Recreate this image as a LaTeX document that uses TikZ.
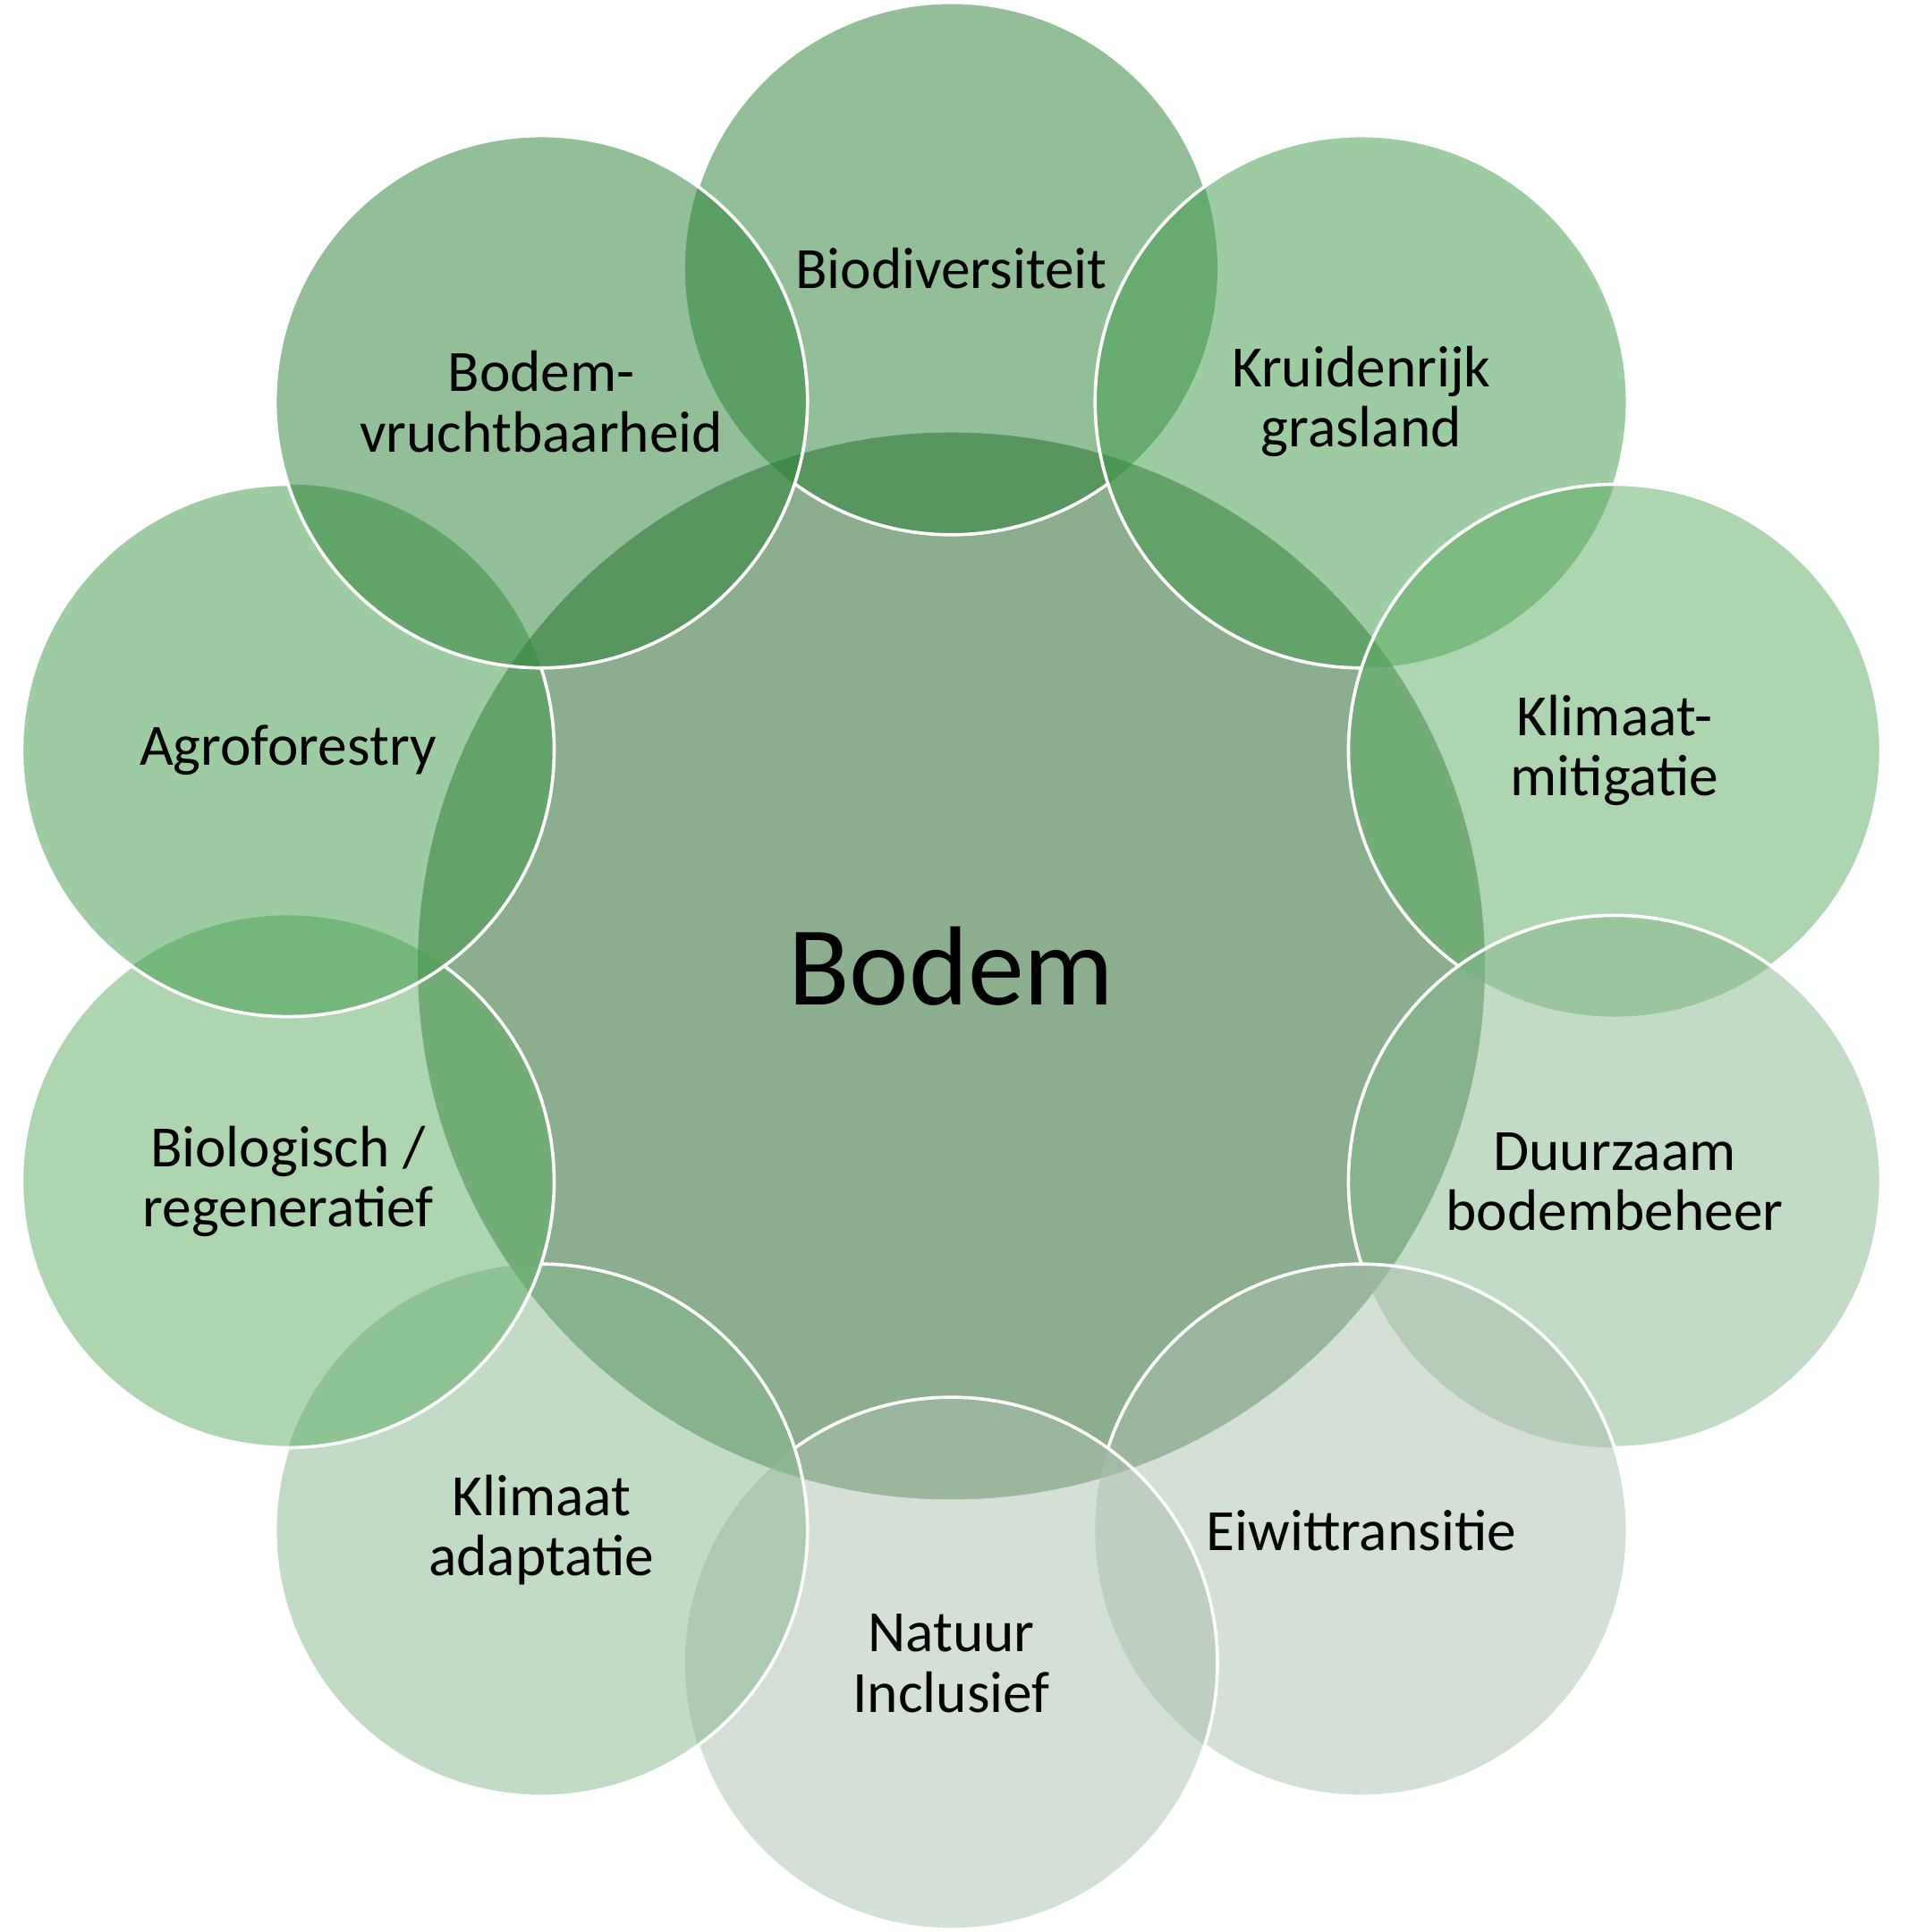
\documentclass[tikz,border=0pt]{standalone}
\usepackage{fontspec}
\setmainfont{Carlito}
\usepackage{tikz}

\definecolor{soil}{RGB}{139,175,142}
\definecolor{leafA}{RGB}{39,127,49}
\definecolor{leafB}{RGB}{61,153,69}
\definecolor{leafC}{RGB}{91,173,97}
\definecolor{leafD}{RGB}{133,183,139}
\definecolor{leafE}{RGB}{169,191,173}

\tikzset{
  petal/.style={circle, minimum size=4.32cm, inner sep=0pt, fill opacity=0.5,
    text opacity=1, align=center, font=\fontsize{13.5}{13.9}\selectfont},
  rim/.style={draw=white, line width=0.75pt},
}

\begin{document}
\begin{tikzpicture}
        \useasboundingbox (0,0) rectangle (15.48,15.68);

        \node[circle, fill=soil, minimum size=8.66cm, inner sep=0pt,
              font=\fontsize{26}{30}\selectfont] (bodem) at (7.72, 7.84) {Bodem};

        \node[petal, fill=leafA] (bio) at (7.72, 13.50) {Biodiversiteit};
        \node[petal, fill=leafB] (kru) at (11.047, 12.419) {Kruidenrijk\\grasland};
        \node[petal, fill=leafC] (km) at (13.103, 9.589) {Klimaat-\\mitigatie};
        \node[petal, fill=leafD] (duu) at (13.103, 6.091) {Duurzaam\\bodembeheer};
        \node[petal, fill=leafE] (eiw) at (11.047, 3.261) {Eiwittransitie};
        \node[petal, fill=leafE] (nat) at (7.72, 2.18) {Natuur\\Inclusief};
        \node[petal, fill=leafD] (ka) at (4.393, 3.261) {Klimaat\\adaptatie};
        \node[petal, fill=leafC] (bioreg) at (2.337, 6.091) {Biologisch /\\regeneratief};
        \node[petal, fill=leafB] (agro) at (2.337, 9.589) {Agroforestry};
        \node[petal, fill=leafA] (bv) at (4.393, 12.419) {Bodem-\\vruchtbaarheid};

        % white rims, hidden under the next circle
        \begin{scope}[even odd rule]
          \clip (-1,-1) rectangle (17,17)
            (kru.center) circle[radius=2.16] (bv.center) circle[radius=2.16];
          \draw[rim] (bio.center) circle[radius=2.16];
        \end{scope}
        \foreach \c/\n in {kru/km, km/duu, duu/eiw, eiw/nat, nat/ka,
                           ka/bioreg, bioreg/agro, agro/bv} {
          \begin{scope}[even odd rule]
            \clip (-1,-1) rectangle (17,17) (\n.center) circle[radius=2.16];
            \draw[rim] (\c.center) circle[radius=2.16];
          \end{scope}
        }
        \draw[rim] (bv.center) circle[radius=2.16];
\end{tikzpicture}
\end{document}
